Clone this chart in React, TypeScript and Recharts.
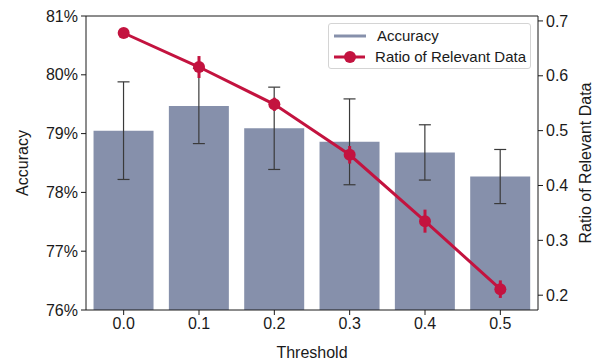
import {
  Bar,
  ComposedChart,
  ErrorBar,
  Line,
  ReferenceLine,
  XAxis,
  YAxis,
} from "recharts";

const thresholds = ["0.0", "0.1", "0.2", "0.3", "0.4", "0.5"];
const accuracy = [79.05, 79.47, 79.09, 78.86, 78.68, 78.27];
const accuracyErr = [0.83, 0.64, 0.7, 0.73, 0.47, 0.46];
const ratio = [0.678, 0.616, 0.548, 0.456, 0.335, 0.211];
const ratioErr = [0, 0.02, 0.012, 0.016, 0.021, 0.016];
const accuracyTicks = [76, 77, 78, 79, 80, 81];
const ratioTicks = [0.2, 0.3, 0.4, 0.5, 0.6, 0.7];

const BAR = "#8690ab";
const RED = "#c3133f";
const INK = "#1a1a1a";
const FONT = "'Liberation Sans', Arial, sans-serif";

const data = thresholds.map((t, i) => ({
  threshold: t,
  accuracy: accuracy[i],
  accuracyErr: accuracyErr[i],
  ratio: ratio[i],
  ratioErr: ratioErr[i],
}));

// legend sits inside the plot, so it's drawn as an overlay rather than via <Legend>
function LegendBox() {
  return (
    <div
      style={{
        position: "absolute",
        left: 328,
        top: 23,
        width: 203,
        height: 46,
        boxSizing: "border-box",
        border: "1px solid #d4d4d4",
        borderRadius: 3,
        background: "#fff",
        padding: "1px 4px 1px 4px",
        fontFamily: FONT,
        fontSize: 15,
        color: INK,
        lineHeight: "21px",
        whiteSpace: "nowrap",
      }}
    >
      <div style={{ display: "flex", alignItems: "center" }}>
        <svg width={34} height={10} style={{ marginRight: 10 }}>
          <line x1={1} y1={5} x2={33} y2={5} stroke={BAR} strokeWidth={3} />
        </svg>
        <span>Accuracy</span>
      </div>
      <div style={{ display: "flex", alignItems: "center" }}>
        <svg width={34} height={14} style={{ marginRight: 10 }}>
          <line x1={1} y1={7} x2={33} y2={7} stroke={RED} strokeWidth={3} />
          <circle cx={17} cy={7} r={6} fill={RED} />
        </svg>
        <span>Ratio of Relevant Data</span>
      </div>
    </div>
  );
}

export default function App() {
  const tick = { fill: INK, fontSize: 16, fontFamily: FONT };
  const labelStyle = { fill: INK, fontSize: 16, fontFamily: FONT };
  return (
    <div
      style={{
        position: "absolute",
        left: 0,
        top: 0,
        width: 596,
        height: 363,
        background: "#fff",
      }}
    >
      <ComposedChart
        width={596}
        height={363}
        data={data}
        margin={{ top: 16, right: 0, left: 0, bottom: 0 }}
        barCategoryGap="10%"
      >
        <XAxis
          dataKey="threshold"
          height={53}
          stroke={INK}
          tick={tick}
          tickSize={5}
          tickMargin={3}
          label={{
            value: "Threshold",
            position: "center",
            dy: 16,
            style: labelStyle,
          }}
        />
        <YAxis
          yAxisId="left"
          width={86}
          domain={[76, 81]}
          ticks={accuracyTicks}
          tickFormatter={(v: number) => `${v}%`}
          allowDataOverflow
          stroke={INK}
          tick={tick}
          tickSize={5}
          tickMargin={3}
          label={{
            value: "Accuracy",
            angle: -90,
            position: "center",
            dx: -21,
            style: labelStyle,
          }}
        />
        <YAxis
          yAxisId="right"
          orientation="right"
          width={58}
          domain={[0.173, 0.709]}
          ticks={ratioTicks}
          tickFormatter={(v: number) => v.toFixed(1)}
          allowDataOverflow
          stroke={INK}
          tick={tick}
          tickSize={5}
          tickMargin={3}
          label={{
            value: "Ratio of Relevant Data",
            angle: -90,
            position: "center",
            dx: 18,
            style: labelStyle,
          }}
        />
        <ReferenceLine yAxisId="left" y={81} stroke={INK} />
        <Bar
          yAxisId="left"
          dataKey="accuracy"
          fill={BAR}
          isAnimationActive={false}
        >
          <ErrorBar
            dataKey="accuracyErr"
            width={6}
            stroke="#3a3a3a"
            strokeWidth={1.2}
          />
        </Bar>
        <Line
          yAxisId="right"
          dataKey="ratio"
          stroke={RED}
          strokeWidth={3}
          dot={{ r: 6, fill: RED, stroke: "none" }}
          activeDot={false}
          isAnimationActive={false}
        >
          <ErrorBar
            dataKey="ratioErr"
            width={0}
            stroke={RED}
            strokeWidth={3}
          />
        </Line>
      </ComposedChart>
      <LegendBox />
    </div>
  );
}
